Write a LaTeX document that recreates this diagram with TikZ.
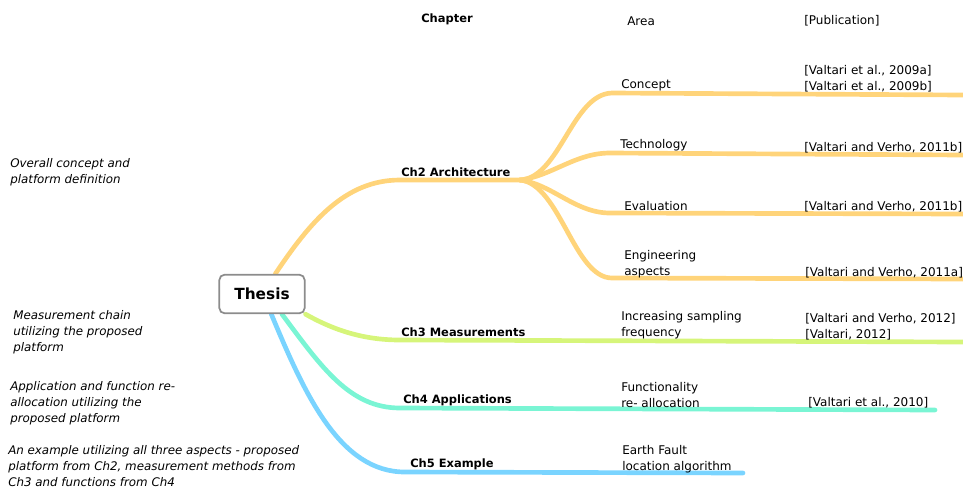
\documentclass[tikz,border=0pt]{standalone}
\usepackage{fontspec}
\setmainfont{DejaVu Sans}
\usepackage{tikz}
\usetikzlibrary{backgrounds}
\definecolor{archcolor}{RGB}{255,212,122}
\definecolor{meascolor}{RGB}{214,245,122}
\definecolor{appcolor}{RGB}{122,245,212}
\definecolor{examcolor}{RGB}{122,212,255}
\definecolor{rootcolor}{RGB}{140,140,140}
\tikzset{
  root box/.style={
    rectangle,
    rounded corners=4pt,
    draw=rootcolor,
    fill=white,
    line width=1.3pt,
    minimum width=64pt,
    minimum height=29pt,
    font=\fontsize{11.5}{14}\selectfont\bfseries
  },
  chap label/.style={
    anchor=west,
    inner sep=0pt,
    yshift=-1.5pt,
    font=\fontsize{8.6}{12}\selectfont\bfseries
  },
  area label/.style={
    anchor=west,
    align=left,
    inner sep=0pt,
    yshift=-1.5pt,
    font=\fontsize{9}{12.3}\selectfont
  },
  pub label/.style={area label},
  note label/.style={
    anchor=west,
    align=left,
    inner sep=0pt,
    yshift=-1pt,
    font=\fontsize{8.9}{12}\selectfont\itshape
  },
  branch/.style={line width=3.5pt, line cap=round}
}

\begin{document}
\begin{tikzpicture}[x=0.75pt, y=-0.75pt]
  \useasboundingbox (0,0) rectangle (963,490);

  % Header
  \node[chap label, anchor=center] (hchap) at (447,17) {Chapter};
  \node[area label] (harea) at (627,19) {Area};
  \node[pub label] (hpub) at (804,19) {[Publication]};

  % Root
  \node[root box] (thesis) at (262,294) {Thesis};

  % Chapters
  \node[chap label] (l2) at (401,170) {Ch2 Architecture};
  \node[chap label] (l3) at (401,330) {Ch3 Measurements};
  \node[chap label] (l4) at (403,398) {Ch4 Applications};
  \node[chap label] (l5) at (410,462) {Ch5 Example};

  % Areas
  \node[area label] (concept) at (621,83) {Concept};
  \node[area label] (tech) at (620,143) {Technology};
  \node[area label] (eval) at (624,204) {Evaluation};
  \node[area label] (eng) at (624,262) {Engineering\\aspects};
  \node[area label] (incr) at (621,323) {Increasing sampling\\frequency};
  \node[area label] (func) at (621,393) {Functionality\\re- allocation};
  \node[area label] (earth) at (622,457) {Earth Fault\\location algorithm};

  % Publications
  \node[pub label] (p1) at (804,77) {[Valtari et al., 2009a]\\{}[Valtari et al., 2009b]};
  \node[pub label] (p2) at (804,146) {[Valtari and Verho, 2011b]};
  \node[pub label] (p3) at (804,205) {[Valtari and Verho, 2011b]};
  \node[pub label] (p4) at (805,271) {[Valtari and Verho, 2011a]};
  \node[pub label] (p5) at (805,325) {[Valtari and Verho, 2012]\\{}[Valtari, 2012]};
  \node[pub label] (p6) at (808,401) {[Valtari et al., 2010]};

  % Notes on the left
  \node[note label] (n2) at (10,171) {Overall concept and\\platform definition};
  \node[note label] (n3) at (13,331) {Measurement chain\\utilizing the proposed\\platform};
  \node[note label] (n4) at (10,402) {Application and function re-\\allocation utilizing the\\proposed platform};
  \node[note label] (n5) at (8,465) {An example utilizing all three aspects - proposed\\platform from Ch2, measurement methods from\\Ch3 and functions from Ch4};

  % Branch points
  \coordinate (c2) at (400,180);
  \coordinate (a2) at (520,180);
  \coordinate (c3) at (400,340);
  \coordinate (c4) at (400,408);
  \coordinate (c5) at (405,472);
  \coordinate (e21) at (963,95);
  \coordinate (e22) at (963,155);
  \coordinate (e23) at (963,214);
  \coordinate (e24) at (963,279);
  \coordinate (e3) at (963,342);
  \coordinate (e4) at (935,410);
  \coordinate (e5) at (743,473);

  \begin{scope}[on background layer]
    % Ch2
    \draw[branch, archcolor] ([xshift=10pt]thesis.north) .. controls (310,222) and (345,180) .. (c2) -- (a2);
    \draw[branch, archcolor] (a2) .. controls (560,178) and (572,94) .. (612,93) -- (e21);
    \draw[branch, archcolor] (a2) .. controls (552,176) and (575,153) .. (610,153) -- (e22);
    \draw[branch, archcolor] (a2) .. controls (552,184) and (575,213) .. (610,213) -- (e23);
    \draw[branch, archcolor] (a2) .. controls (560,184) and (574,278) .. (612,278) -- (e24);
    % Ch3
    \draw[branch, meascolor] (thesis.south east) .. controls (330,328) and (360,340) .. (c3) -- (e3);
    % Ch4
    \draw[branch, appcolor] ([xshift=15pt]thesis.south) .. controls (322,368) and (350,408) .. (c4) -- (e4);
    % Ch5
    \draw[branch, examcolor] ([xshift=7pt]thesis.south) .. controls (305,395) and (340,472) .. (c5) -- (e5);
  \end{scope}
\end{tikzpicture}
\end{document}
